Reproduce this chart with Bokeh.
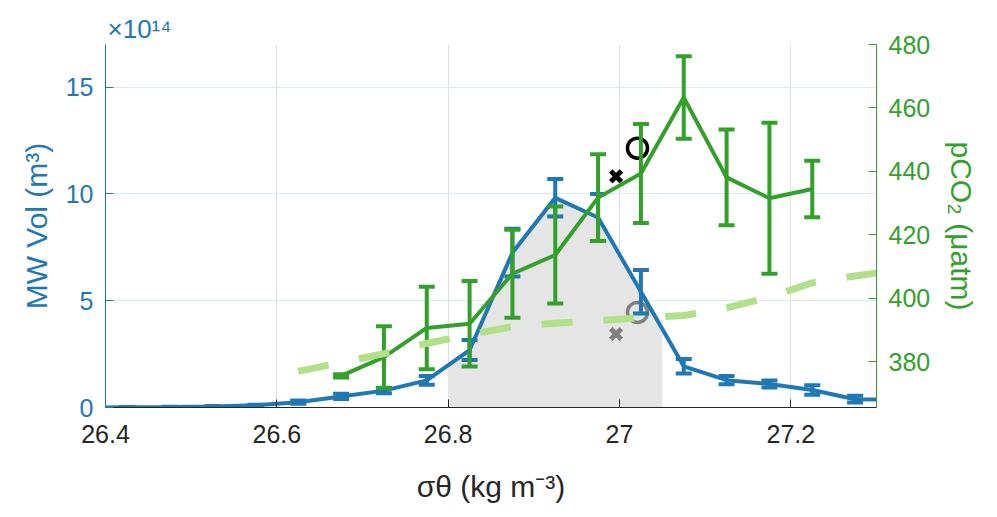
import numpy as np
from bokeh.plotting import figure
from bokeh.models import Range1d, LinearAxis, FixedTicker
from bokeh.embed import file_html
from bokeh.resources import INLINE

# ---------------- data ----------------
# density bin centres (sigma_theta, kg m^-3)
sigma_vol = [26.375, 26.425, 26.475, 26.525, 26.575, 26.625, 26.675, 26.725, 26.775, 26.825,
             26.875, 26.925, 26.975, 27.025, 27.075, 27.125, 27.175, 27.225, 27.275, 27.325]
# mode-water volume (x 1e14 m^3) and its error
mw_vol = [0.0, 0.01, 0.02, 0.05, 0.10, 0.25, 0.52, 0.79, 1.27, 2.69,
          7.25, 9.82, 8.90, 5.42, 1.93, 1.28, 1.10, 0.82, 0.39, 0.37]
mw_vol_err = [0.0, 0.01, 0.01, 0.02, 0.03, 0.08, 0.12, 0.12, 0.20, 0.47,
              1.12, 0.88, 1.10, 1.02, 0.34, 0.19, 0.16, 0.22, 0.16, 0.0]

# ocean pCO2 per density bin (uatm)
sigma_pco2 = [26.675, 26.725, 26.775, 26.825, 26.875, 26.925, 26.975, 27.025,
              27.075, 27.125, 27.175, 27.225]
pco2 = [375.5, 381.4, 390.6, 391.9, 407.7, 413.6, 431.7, 439.3,
        463.3, 438.1, 431.5, 434.4]
pco2_err = [0.5, 9.7, 13.0, 13.5, 13.9, 15.3, 13.7, 15.6,
            13.0, 15.1, 23.8, 8.9]

# atmospheric pCO2 (dashed)
sigma_atm = [26.625, 26.675, 26.725, 26.775, 26.825, 26.875, 26.925, 26.975,
             27.025, 27.075, 27.125, 27.175, 27.225, 27.275, 27.325]
pco2_atm = [376.9, 379.7, 382.5, 385.7, 388.5, 391.0, 392.1, 392.9,
            393.8, 394.5, 396.9, 400.3, 404.8, 407.0, 408.8]

# mode-water density range (shaded)
shade_range = [26.8, 27.05]

# single markers
black_x = (26.996, 438.4)
black_o = (27.021, 447.3)
gray_x = (26.996, 388.7)
gray_o = (27.021, 395.5)

x_ticks = [26.4, 26.6, 26.8, 27.0, 27.2]
x_tick_labels = ["26.4", "26.6", "26.8", "27", "27.2"]
vol_ticks = [0, 5, 10, 15]
pco2_ticks = [380, 400, 420, 440, 460, 480]

# ---------------- style ----------------
BLUE = "#1f78b4"
GREEN = "#33a02c"
LGREEN = "#b2df8a"
DARK = "#262626"
FONT = "Liberation Sans"

p = figure(width=997, height=517, x_range=Range1d(26.4, 27.3), y_range=Range1d(0, 17),
           output_backend="svg", toolbar_location=None,
           min_border_left=105, min_border_right=121, min_border_top=44, min_border_bottom=110)
p.outline_line_color = None
p.extra_y_ranges = {"pco2": Range1d(365.5, 480)}

# exponent of the left axis, shown as the title
p.title.text = "×10¹⁴"
p.title.align = "left"
p.title.offset = 2
p.title.standoff = 1
p.title.text_font = FONT
p.title.text_font_style = "normal"
p.title.text_font_size = "26px"
p.title.text_color = BLUE

# grids
p.xgrid.ticker = FixedTicker(ticks=x_ticks)
p.xgrid.grid_line_color = "#dedede"
p.ygrid.ticker = FixedTicker(ticks=vol_ticks)
p.ygrid.grid_line_color = "#dbe9f4"

# x axis
xa = p.xaxis[0]
xa.ticker = FixedTicker(ticks=x_ticks)
xa.major_label_overrides = {v: l for v, l in zip(x_ticks, x_tick_labels)}
xa.minor_tick_line_color = None
xa.major_tick_in = 8
xa.major_tick_out = 0
xa.major_tick_line_color = DARK
xa.axis_line_color = DARK
xa.major_label_text_color = DARK
xa.major_label_text_font = FONT
xa.major_label_text_font_size = "25px"
xa.major_label_standoff = 17
xa.axis_label = "σθ (kg m⁻³)"
xa.axis_label_text_color = DARK
xa.axis_label_text_font = FONT
xa.axis_label_text_font_style = "normal"
xa.axis_label_text_font_size = "30px"
xa.axis_label_standoff = 24

# left axis
ya = p.yaxis[0]
ya.ticker = FixedTicker(ticks=vol_ticks)
ya.minor_tick_line_color = None
ya.major_tick_in = 8
ya.major_tick_out = 0
ya.major_tick_line_color = BLUE
ya.axis_line_color = BLUE
ya.major_label_text_color = BLUE
ya.major_label_text_font = FONT
ya.major_label_text_font_size = "25px"
ya.major_label_standoff = 12
ya.axis_label = "MW Vol (m³)"
ya.axis_label_text_color = BLUE
ya.axis_label_text_font = FONT
ya.axis_label_text_font_style = "normal"
ya.axis_label_text_font_size = "30px"
ya.axis_label_standoff = 10

# right axis
ra = LinearAxis(y_range_name="pco2", ticker=FixedTicker(ticks=pco2_ticks))
ra.minor_tick_line_color = None
ra.major_tick_in = 8
ra.major_tick_out = 0
ra.major_tick_line_color = GREEN
ra.axis_line_color = GREEN
ra.major_label_text_color = GREEN
ra.major_label_text_font = FONT
ra.major_label_text_font_size = "25px"
ra.major_label_standoff = 12
ra.axis_label = "pCO₂ (μatm)"
ra.axis_label_text_color = GREEN
ra.axis_label_text_font = FONT
ra.axis_label_text_font_style = "normal"
ra.axis_label_text_font_size = "30px"
ra.axis_label_standoff = 12
p.add_layout(ra, "right")

# shaded mode-water range under the volume curve
sv = np.array(sigma_vol)
vv = np.array(mw_vol)
inside = (sv > shade_range[0]) & (sv < shade_range[1])
sx = [shade_range[0], shade_range[0]] + list(sv[inside]) + [shade_range[1], shade_range[1]]
sy = ([0.0, float(np.interp(shade_range[0], sv, vv))] + list(vv[inside]) +
      [float(np.interp(shade_range[1], sv, vv)), 0.0])
p.patch(sx, sy, fill_color="#e5e5e5", line_color=None)

# single markers
p.scatter([gray_o[0]], [gray_o[1]], marker="circle", size=20, fill_color=None,
          line_color="#808080", line_width=3.5, y_range_name="pco2")
p.scatter([gray_x[0]], [gray_x[1]], marker="x", size=15, line_color="#808080",
          line_width=5, y_range_name="pco2")
p.scatter([black_o[0]], [black_o[1]], marker="circle", size=20, fill_color=None,
          line_color="black", line_width=3.5, y_range_name="pco2")
p.scatter([black_x[0]], [black_x[1]], marker="x", size=15, line_color="black",
          line_width=5, y_range_name="pco2")

# volume with error bars
ve = np.array(mw_vol_err)
p.line(sigma_vol, mw_vol, line_color=BLUE, line_width=4)
p.segment(sigma_vol, list(vv - ve), sigma_vol, list(vv + ve), line_color=BLUE, line_width=4)
p.scatter(sigma_vol, list(vv - ve), marker="dash", size=16, line_color=BLUE, line_width=4)
p.scatter(sigma_vol, list(vv + ve), marker="dash", size=16, line_color=BLUE, line_width=4)

# pCO2 with error bars
pc = np.array(pco2)
pe = np.array(pco2_err)
p.line(sigma_pco2, pco2, line_color=GREEN, line_width=4, y_range_name="pco2")
p.segment(sigma_pco2, list(pc - pe), sigma_pco2, list(pc + pe), line_color=GREEN,
          line_width=4, y_range_name="pco2")
p.scatter(sigma_pco2, list(pc - pe), marker="dash", size=16, line_color=GREEN,
          line_width=4, y_range_name="pco2")
p.scatter(sigma_pco2, list(pc + pe), marker="dash", size=16, line_color=GREEN,
          line_width=4, y_range_name="pco2")

# atmospheric pCO2
p.line(sigma_atm, pco2_atm, line_color=LGREEN, line_width=7, line_dash="31 31",
       y_range_name="pco2")

open("out.html", "w").write(file_html(p, INLINE))
